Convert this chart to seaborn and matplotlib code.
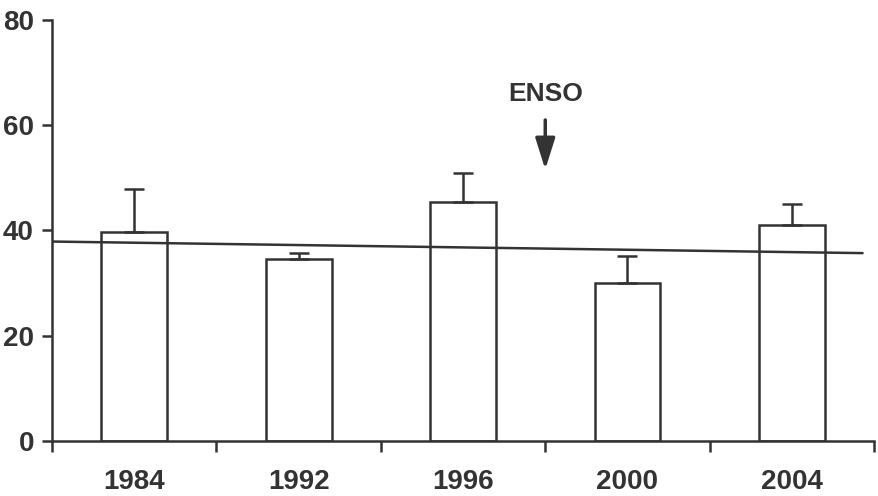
"""
Bar chart with upper error bars, trend line and ENSO marker
"""
import numpy as np
import pandas as pd
import matplotlib
matplotlib.use("Agg")
import matplotlib.pyplot as plt
import seaborn as sns

# data
years = ["1984", "1992", "1996", "2000", "2004"]
means = [39.8, 34.5, 45.5, 30.0, 41.0]
upper_err = [8.0, 1.3, 5.5, 5.2, 4.0]
trend_x = [-0.5, 4.43]
trend_y = [37.9, 35.7]
enso_x = 2.5
yticks = [0, 20, 40, 60, 80]

ink = "#333333"

sns.set_style("ticks")
plt.rcParams["font.family"] = ["Liberation Sans", "DejaVu Sans"]
plt.rcParams["font.weight"] = "bold"

df = pd.DataFrame({"year": years, "value": means})

fig = plt.figure(figsize=(8.79, 4.96), dpi=100)
ax = fig.add_axes([0.0592, 0.1109, 0.9352, 0.8488])

sns.barplot(data=df, x="year", y="value", order=years, width=0.4,
            color="white", edgecolor=ink, linewidth=1.8, errorbar=None, ax=ax)

# upper error bars only
ax.errorbar(np.arange(len(years)), means, yerr=[[0] * len(years), upper_err],
            fmt="none", ecolor=ink, elinewidth=1.8, capsize=7, capthick=1.8, zorder=3)

# trend line
ax.plot(trend_x, trend_y, color=ink, lw=1.8, zorder=4)

# ENSO marker
ax.annotate("", xy=(enso_x, 51.6), xytext=(enso_x, 61),
            arrowprops=dict(arrowstyle="-|>,head_length=1.9,head_width=0.6",
                            color=ink, lw=2.5, shrinkA=0, shrinkB=0))
ax.text(enso_x, 66, "ENSO", ha="center", va="center", fontsize=19,
        fontweight="bold", color=ink)

ax.set_xlim(-0.5, 4.5)
ax.set_ylim(0, 80)
ax.set_yticks(yticks)
ax.set_xlabel("")
ax.set_ylabel("")

ax.set_xticks(np.arange(-0.5, 4.6, 1.0), minor=True)
ax.tick_params(axis="x", which="major", length=0, pad=20, labelsize=20,
               labelcolor=ink)
ax.tick_params(axis="x", which="minor", length=8, width=1.8, color=ink,
               direction="out")
ax.tick_params(axis="y", length=7, width=1.8, color=ink, pad=6,
               labelsize=20, labelcolor=ink)
for lbl in ax.get_xticklabels() + ax.get_yticklabels():
    lbl.set_fontweight("bold")

sns.despine(ax=ax)
for side in ["left", "bottom"]:
    ax.spines[side].set_linewidth(1.8)
    ax.spines[side].set_color(ink)

fig.savefig("out.png", dpi=100)
